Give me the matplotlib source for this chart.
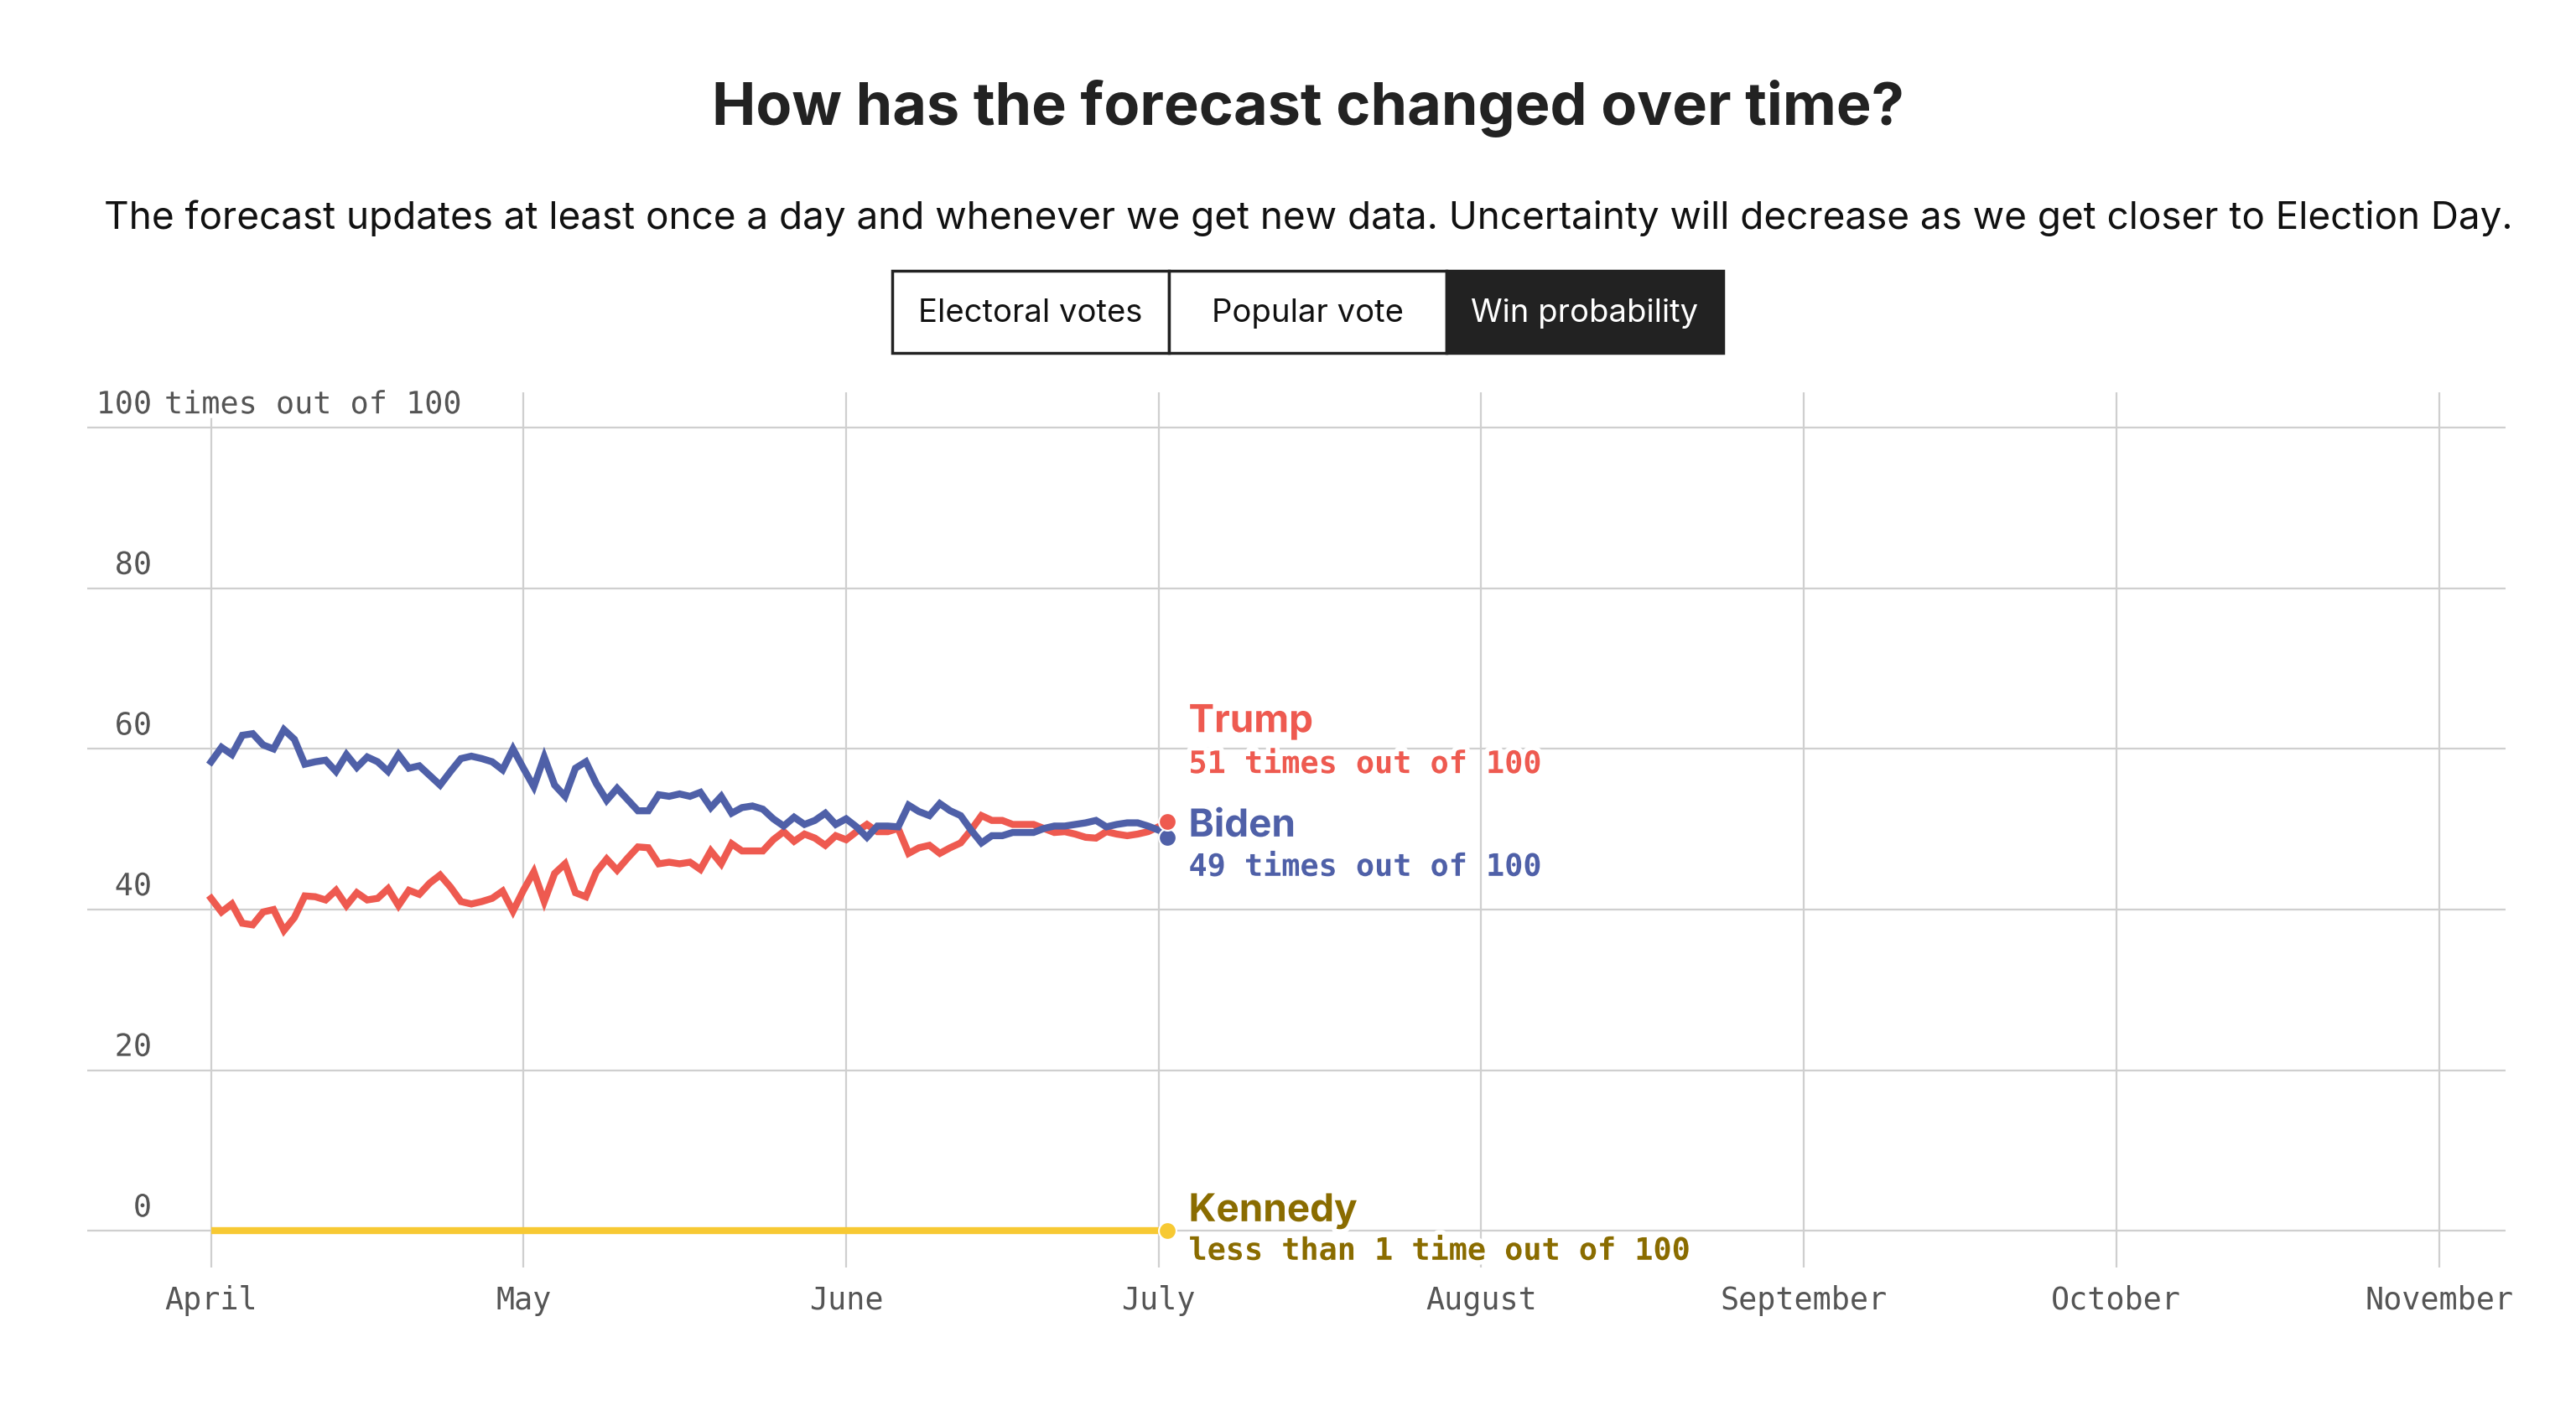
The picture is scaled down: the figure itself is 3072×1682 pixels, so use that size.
import numpy as np
import matplotlib.pyplot as plt
import matplotlib.dates as mdates
import matplotlib.patheffects as pe
from matplotlib.patches import Rectangle
from matplotlib.transforms import offset_copy, blended_transform_factory

# Datos: probabilidad de victoria, diaria 1 abr - 1 jul 2024
start = np.datetime64('2024-04-01')
dates = start + np.arange(92)

biden = [58.4, 60.2, 59.3, 61.7, 61.9, 60.5, 60.0, 62.4, 61.2, 58.1,
         58.4, 58.6, 57.2, 59.3, 57.7, 59.0, 58.4, 57.2, 59.3, 57.6,
         57.9, 56.7, 55.5, 57.2, 58.8, 59.1, 58.8, 58.4, 57.4, 60.0,
         57.6, 55.3, 59.0, 55.5, 54.1, 57.6, 58.4, 55.7, 53.6, 55.1,
         53.7, 52.3, 52.3, 54.3, 54.1, 54.4, 54.1, 54.6, 52.7, 54.1,
         52.0, 52.7, 52.9, 52.5, 51.3, 50.4, 51.5, 50.6, 51.1, 52.0,
         50.6, 51.3, 50.3, 49.0, 50.4, 50.4, 50.3, 53.0, 52.2, 51.7,
         53.2, 52.3, 51.7, 49.9, 48.3, 49.2, 49.2, 49.6, 49.6, 49.6,
         50.1, 50.4, 50.4, 50.6, 50.8, 51.1, 50.3, 50.6, 50.8, 50.8,
         50.4, 49.9]

trump = [41.4, 39.7, 40.7, 38.3, 38.1, 39.7, 40.0, 37.4, 39.0, 41.7,
         41.6, 41.2, 42.4, 40.5, 42.1, 41.2, 41.4, 42.6, 40.5, 42.4,
         41.9, 43.3, 44.3, 42.8, 41.0, 40.7, 41.0, 41.4, 42.3, 39.8,
         42.4, 44.7, 41.0, 44.5, 45.7, 42.1, 41.6, 44.7, 46.3, 44.9,
         46.4, 47.8, 47.7, 45.7, 45.9, 45.7, 45.9, 45.0, 47.3, 45.7,
         48.2, 47.3, 47.3, 47.3, 48.7, 49.7, 48.5, 49.4, 48.9, 48.0,
         49.2, 48.7, 49.7, 50.6, 49.7, 49.7, 50.1, 47.0, 47.7, 48.0,
         47.0, 47.7, 48.3, 49.9, 51.7, 51.1, 51.1, 50.6, 50.6, 50.6,
         50.1, 49.6, 49.7, 49.4, 49.0, 48.9, 49.7, 49.4, 49.2, 49.4,
         49.7, 50.3]

kennedy = [0.0] * 92

final_date = np.datetime64('2024-07-01')
final_trump = 51
final_biden = 49
final_kennedy = 0

month_ticks = np.array(['2024-04-01', '2024-05-01', '2024-06-01', '2024-07-01',
                        '2024-08-01', '2024-09-01', '2024-10-01', '2024-11-01'],
                       dtype='datetime64[D]')
month_labels = ['April', 'May', 'June', 'July', 'August', 'September',
                'October', 'November']
y_ticks = [0, 20, 40, 60, 80, 100]
buttons = ['Electoral votes', 'Popular vote', 'Win probability']

# Estilo
W, H = 3072, 1682
DPI = 100
PX = 72 / DPI  # puntos por pixel
RED = '#ee5a50'
BLUE = '#4f60a8'
YELLOW = '#f7c933'
GOLD = '#8a6c00'
GRID = '#cfcfcf'
SANS = ['Inter', 'DejaVu Sans']
MONO = ['DejaVu Sans Mono']
halo = [pe.withStroke(linewidth=8, foreground='white')]

fig = plt.figure(figsize=(W / DPI, H / DPI), dpi=DPI)


def ftext(x, y, s, **kw):
    # texto en pixeles de la figura (origen arriba a la izquierda)
    fig.text(x / W, 1 - y / H, s, **kw)


ftext(1560, 149, 'How has the forecast changed over time?', ha='center', va='baseline',
      fontsize=50.5, fontweight='bold', family=SANS, color='#222222')
ftext(1560, 273, 'The forecast updates at least once a day and whenever we get new data. '
      'Uncertainty will decrease as we get closer to Election Day.',
      ha='center', va='baseline', fontsize=33, family=SANS, color='#111111')

# botones
bx0, bx1, by0, by1 = 1064, 2055, 323, 421
bw = (bx1 - bx0) / len(buttons)
for i, b in enumerate(buttons):
    active = i == len(buttons) - 1
    fig.patches.append(Rectangle(((bx0 + i * bw) / W, 1 - by1 / H), bw / W, (by1 - by0) / H,
                                 transform=fig.transFigure, facecolor='#222222' if active else 'white',
                                 edgecolor='#222222', linewidth=2.5))
    ftext(bx0 + (i + 0.5) * bw, (by0 + by1) / 2 + 2, b, ha='center', va='center',
          fontsize=27.5, family=SANS, color='white' if active else '#111111')

# ejes
ax = fig.add_axes([104 / W, 1 - 1512 / H, (2988 - 104) / W, (1512 - 468) / H])
x0 = mdates.date2num(start)
ax.set_xlim(x0 - 11.9, x0 + 220.4)
ax.set_ylim(-4.56, 104.4)
for s in ax.spines.values():
    s.set_visible(False)
ax.grid(True, color=GRID, linewidth=1.6)
ax.set_axisbelow(True)

ax.set_xticks(mdates.date2num(month_ticks))
ax.set_xticklabels(month_labels, family=MONO, fontsize=26.5, color='#555555')
ax.set_yticks(y_ticks)
ax.set_yticklabels([])
ax.tick_params(length=0, axis='x', pad=15)
ax.tick_params(length=0, axis='y')

ytr = offset_copy(blended_transform_factory(ax.transAxes, ax.transData), fig=fig, y=17 * PX, units='points')
for v in y_ticks:
    ax.text((181 - 104) / 2884, v, str(v), transform=ytr, ha='right', va='baseline',
            family=MONO, fontsize=26.5, color='#555555', path_effects=halo)
ax.text((196 - 104) / 2884, y_ticks[-1], 'times out of 100', transform=ytr, ha='left', va='baseline',
        family=MONO, fontsize=26.5, color='#555555', path_effects=halo)

# lineas
lw = 6
ax.plot(dates, kennedy, color=YELLOW, lw=lw, solid_capstyle='butt', zorder=3)
ax.plot(dates, trump, color=RED, lw=lw, solid_joinstyle='miter', zorder=4)
ax.plot(dates, biden, color=BLUE, lw=lw, solid_joinstyle='miter', zorder=4)

dot_tr = offset_copy(ax.transData, fig=fig, x=10 * PX, units='points')
for val, c in [(final_kennedy, YELLOW), (final_biden, BLUE), (final_trump, RED)]:
    ax.plot([final_date], [val], 'o', color=c, ms=15, mec='white', mew=1.5,
            transform=dot_tr, zorder=5, clip_on=False)

# etiquetas
lab_tr = offset_copy(ax.transData, fig=fig, x=36 * PX, units='points')
fx = mdates.date2num(final_date)
labels = [
    ('Trump', 62.1, RED, SANS, 'bold', 33),
    (f'{final_trump} times out of 100', 57.0, RED, MONO, 'bold', 26.5),
    ('Biden', 49.1, BLUE, SANS, 'bold', 33),
    (f'{final_biden} times out of 100', 44.2, BLUE, MONO, 'bold', 26.5),
    ('Kennedy', 1.2, GOLD, SANS, 'bold', 33),
    ('less than 1 time out of 100', -3.6, GOLD, MONO, 'bold', 26.5),
]
for s, y, c, fam, fw, fs in labels:
    ax.text(fx, y, s, transform=lab_tr, ha='left', va='baseline', color=c,
            family=fam, fontweight=fw, fontsize=fs, path_effects=halo, zorder=6, clip_on=False)

fig.savefig('out.png', dpi=DPI, facecolor='white')
